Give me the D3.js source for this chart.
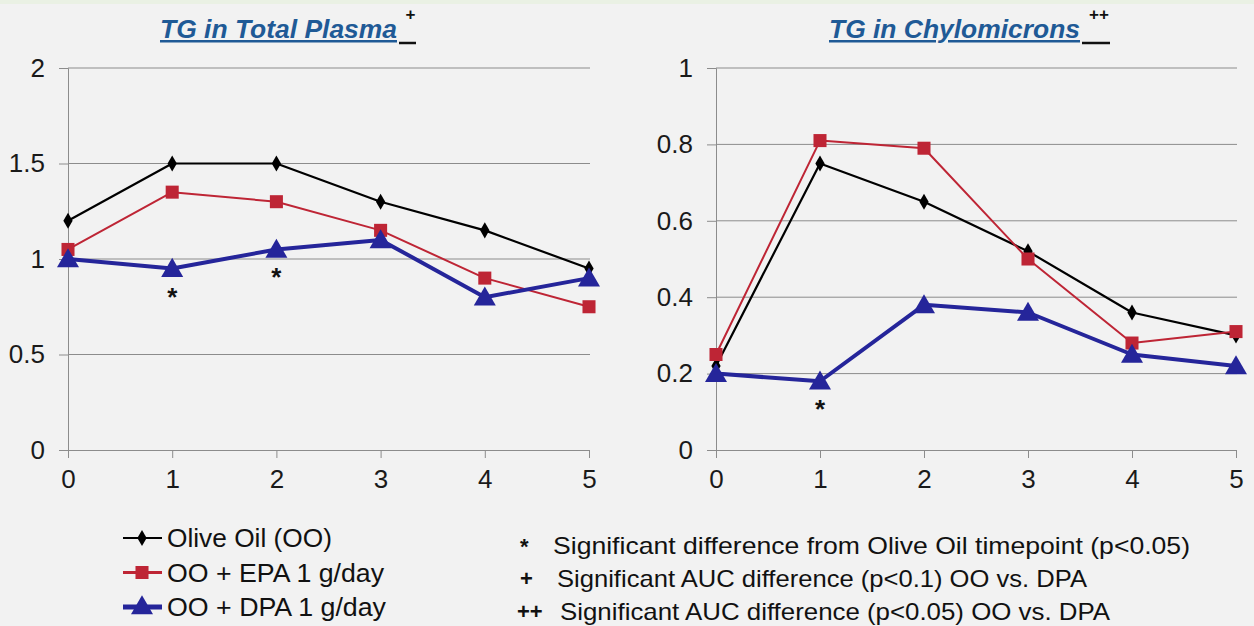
<!DOCTYPE html>
<html><head><meta charset="utf-8">
<script src="https://cdn.jsdelivr.net/npm/d3@7"></script>
<style>
html,body{margin:0;padding:0;background:#f2f2f2;}
svg{display:block;}
</style></head>
<body>
<script>
const timepoints = [0, 1, 2, 3, 4, 5];
const seriesNames = ["Olive Oil (OO)", "OO + EPA 1 g/day", "OO + DPA 1 g/day"];
// TG in Total Plasma
const plasmaOO  = [1.2, 1.5, 1.5, 1.3, 1.15, 0.95];
const plasmaEPA = [1.05, 1.35, 1.3, 1.15, 0.9, 0.75];
const plasmaDPA = [1.0, 0.95, 1.05, 1.1, 0.8, 0.9];
const plasmaSig = [1, 2];
const plasmaTicks = [0, 0.5, 1, 1.5, 2];
// TG in Chylomicrons
const chyloOO  = [0.22, 0.75, 0.65, 0.52, 0.36, 0.30];
const chyloEPA = [0.25, 0.81, 0.79, 0.50, 0.28, 0.31];
const chyloDPA = [0.20, 0.18, 0.38, 0.36, 0.25, 0.22];
const chyloSig = [1];
const chyloTicks = [0, 0.2, 0.4, 0.6, 0.8, 1];
const notes = [
  ["*", "Significant difference from Olive Oil timepoint  (p<0.05)"],
  ["+", "Significant AUC difference  (p<0.1) OO vs. DPA"],
  ["++", "Significant AUC difference  (p<0.05) OO vs. DPA"]
];

const W = 1254, H = 626;
const svg = d3.select("body").append("svg").attr("width", W).attr("height", H);
svg.append("rect").attr("width", W).attr("height", H).attr("fill", "#f2f2f2");
svg.append("rect").attr("width", W).attr("height", 4).attr("fill", "#eaf1e4");

const styles = [
  {color: "#000000", width: 2.2, shape: d3.symbolDiamond, size: 75},
  {color: "#be2535", width: 2, shape: d3.symbolSquare, size: 170},
  {color: "#25259a", width: 4, shape: d3.symbolTriangle, size: 210}
];
const font = "'Liberation Sans', Arial, sans-serif";

function panel(x0, x1, title, titleX, titleW, sup, series, sig, ticks, ymax) {
  const x = d3.scaleLinear().domain([0, 5]).range([x0, x1]);
  const y = d3.scaleLinear().domain([0, ymax]).range([450, 68]);
  const g = svg.append("g");
  g.selectAll(".grid").data(ticks.filter(t => t > 0)).join("line")
    .attr("x1", x0).attr("x2", x1 + 1)
    .attr("y1", d => y(d)).attr("y2", d => y(d))
    .attr("stroke", "#8c8c8c").attr("stroke-width", 1);
  const ya = g.append("g").attr("transform", `translate(${x0},0)`)
    .call(d3.axisLeft(y).tickValues(ticks).tickSize(9).tickPadding(14).tickFormat(d3.format("")));
  ya.select(".domain").attr("stroke", "#8c8c8c");
  ya.selectAll(".tick line").attr("stroke", "#8c8c8c");
  ya.selectAll("text").attr("font-family", font).attr("font-size", 26).attr("fill", "#1a1a1a");
  const xa = g.append("g").attr("transform", `translate(0,450)`)
    .call(d3.axisBottom(x).tickValues(timepoints).tickSize(8).tickPadding(12).tickFormat(d3.format("d")));
  xa.select(".domain").attr("stroke", "#8c8c8c");
  xa.selectAll(".tick line").attr("stroke", "#8c8c8c");
  xa.selectAll("text").attr("font-family", font).attr("font-size", 26).attr("fill", "#1a1a1a");
  const line = d3.line().x((d, i) => x(timepoints[i])).y(d => y(d));
  series.forEach((vals, si) => {
    const s = styles[si];
    g.append("path").datum(vals).attr("d", line).attr("fill", "none")
      .attr("stroke", s.color).attr("stroke-width", s.width).attr("stroke-linejoin", "round");
    g.selectAll(null).data(vals).join("path")
      .attr("transform", (d, i) => `translate(${x(timepoints[i])},${y(d) + (si === 2 ? 2 : 0)})`)
      .attr("d", d3.symbol().type(s.shape).size(s.size))
      .attr("fill", s.color);
  });
  const dpa = series[2];
  g.selectAll(null).data(sig).join("text")
    .attr("x", d => x(d)).attr("y", d => y(dpa[d]) + 37)
    .attr("text-anchor", "middle").attr("font-family", font).attr("font-size", 26)
    .attr("font-weight", "bold").attr("fill", "#111").text("*");
  g.append("text").attr("x", titleX).attr("y", 38)
    .attr("font-family", font).attr("font-size", 25).attr("font-weight", "bold")
    .attr("font-style", "italic").attr("fill", "#1f5a96").attr("text-decoration", "underline")
    .attr("textLength", titleW).attr("lengthAdjust", "spacingAndGlyphs")
    .text(title);
  const ex = titleX + titleW;
  const supW = sup.length * 11;
  g.append("line").attr("x1", ex + 2).attr("x2", ex + 8 + supW).attr("y1", 43).attr("y2", 43)
    .attr("stroke", "#111").attr("stroke-width", 2.5);
  g.append("text").attr("x", ex + 8 + supW / 2).attr("y", 20).attr("text-anchor", "middle")
    .attr("font-family", font).attr("font-size", 17).attr("font-weight", "bold").attr("fill", "#111")
    .text(sup);
}

panel(68, 589, "TG in Total Plasma", 160, 237, "+", [plasmaOO, plasmaEPA, plasmaDPA], plasmaSig, plasmaTicks, 2);
panel(716, 1236, "TG in Chylomicrons", 829, 251, "++", [chyloOO, chyloEPA, chyloDPA], chyloSig, chyloTicks, 1);

// series legend
const legendW = [165, 217, 219];
const lg = svg.append("g");
seriesNames.forEach((name, i) => {
  const s = styles[i];
  const yy = 538 + i * 34.5;
  lg.append("line").attr("x1", 123).attr("x2", 162).attr("y1", yy).attr("y2", yy)
    .attr("stroke", s.color).attr("stroke-width", i === 2 ? 5 : (i === 1 ? 3 : 2.2));
  lg.append("path").attr("transform", `translate(142,${yy + (i === 2 ? 1 : 0)})`)
    .attr("d", d3.symbol().type(s.shape).size(s.size)).attr("fill", s.color);
  lg.append("text").attr("x", 167).attr("y", yy + 9).attr("font-family", font)
    .attr("font-size", 25).attr("fill", "#111")
    .attr("textLength", legendW[i]).attr("lengthAdjust", "spacingAndGlyphs").text(name);
});

// notes legend
const noteX = [553, 557, 560];
const noteW = [637, 530, 550];
const ng = svg.append("g");
notes.forEach((n, i) => {
  const yy = 554 + i * 33;
  ng.append("text").attr("x", n[0] === "++" ? 517 : 520).attr("y", yy - (n[0] === "*" ? 0 : 1))
    .attr("font-family", font).attr("font-size", 22).attr("font-weight", "bold").attr("fill", "#111").text(n[0]);
  ng.append("text").attr("x", noteX[i]).attr("y", yy)
    .attr("font-family", font).attr("font-size", 24).attr("fill", "#111")
    .attr("textLength", noteW[i]).attr("lengthAdjust", "spacingAndGlyphs").text(n[1]);
});
</script>
</body></html>
